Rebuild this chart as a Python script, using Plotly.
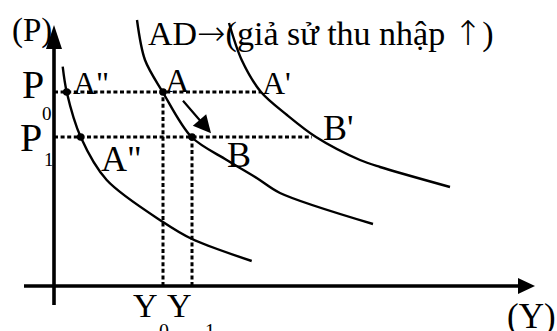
import plotly.graph_objects as go

# --- diagram values (horizontal: output Y, vertical: price level P) ---
P0 = 194
P1 = 149
Y0 = 109
Y1 = 138

# aggregate demand curves
ad_low_x = [8.7, 12.7, 26.7, 52.7, 109, 138, 197.7]
ad_low_y = [219.3, 194, 149, 106, 64, 47, 25]

ad_x = [83, 91, 108.7, 137.5, 172.7, 202.7, 226, 319]
ad_y = [266, 226, 194, 149, 126, 108, 93, 62]

ad_high_x = [175, 187.7, 207, 233, 262, 306, 326, 396]
ad_high_y = [263, 226, 194, 171, 149, 126, 119, 99]

# marked points
pts_x = [12.7, 26.7, Y0, Y1]
pts_y = [P0, P1, P0, P1]

# extents of the drawn axes
x_axis_from, x_axis_to = -30, 481
y_axis_from, y_axis_to = -19, 261

# endpoints of the guide lines
p0_guide_end = 207
p1_guide_end = 258

FONT = "Liberation Serif, Times New Roman, serif"
SYMBOL_FONT = "DejaVu Sans"
INK = "black"

fig = go.Figure()

curve_style = dict(color=INK, width=2.4, shape="spline", smoothing=0.9)
for cx, cy in [(ad_low_x, ad_low_y), (ad_x, ad_y), (ad_high_x, ad_high_y)]:
    fig.add_trace(go.Scatter(x=cx, y=cy, mode="lines", line=curve_style,
                             hoverinfo="skip", showlegend=False))

# dotted guide lines
dot_style = dict(color=INK, width=3, dash="4px,2.6px")
guides = [
    ([0, p0_guide_end], [P0, P0]),
    ([0, p1_guide_end], [P1, P1]),
    ([Y0, Y0], [0, P0]),
    ([Y1, Y1], [0, P1]),
]
for gx, gy in guides:
    fig.add_trace(go.Scatter(x=gx, y=gy, mode="lines", line=dot_style,
                             hoverinfo="skip", showlegend=False))

# axes
axis_style = dict(color=INK, width=3.6)
fig.add_trace(go.Scatter(x=[x_axis_from, x_axis_to - 10], y=[0, 0], mode="lines",
                         line=axis_style, hoverinfo="skip", showlegend=False))
fig.add_trace(go.Scatter(x=[0, 0], y=[y_axis_from, y_axis_to - 12], mode="lines",
                         line=axis_style, hoverinfo="skip", showlegend=False))

# points on the curves
fig.add_trace(go.Scatter(x=pts_x, y=pts_y, mode="markers",
                         marker=dict(color=INK, size=7.5),
                         hoverinfo="skip", showlegend=False))


def head(tip_x, tip_y, dx, dy, length, half):
    """Closed triangle path for an arrowhead pointing along (dx, dy)."""
    bx, by = tip_x - dx * length, tip_y - dy * length
    px, py = -dy * half, dx * half
    return (f"M {tip_x},{tip_y} L {bx + px},{by + py} "
            f"L {bx - px},{by - py} Z")


fig.add_shape(type="path", path=head(0, y_axis_to, 0, 1, 24, 8),
              fillcolor=INK, line=dict(width=0), xref="x", yref="y")
fig.add_shape(type="path", path=head(x_axis_to, 0, 1, 0, 17, 8),
              fillcolor=INK, line=dict(width=0), xref="x", yref="y")

# movement along AD from A to B
fig.add_annotation(x=157, y=152.7, ax=127.7, ay=186.7, xref="x", yref="y",
                   axref="x", ayref="y", text="", showarrow=True,
                   arrowhead=2, arrowwidth=2.2, arrowsize=1.6, arrowcolor=INK,
                   standoff=0)


def sym(ch):
    return (f"<span style='font-family:{SYMBOL_FONT};font-weight:200'>"
            f"{ch}</span>")


labels = [
    ("(P)", -43, 255.5, 33),
    (f"AD{sym('→')}(giả sử thu nhập {sym('↑')})", 92.7, 253, 34),
    ('A"', 18, 203.5, 32),
    ("A", 110, 205.5, 34),
    ("A'", 207, 203.5, 32),
    ("B'", 268, 158, 36),
    ("B", 172, 131, 36),
    ('A"', 46, 127.5, 36),
    ("P", -33, 201.7, 40),
    ("0", -13, 173, 19),
    ("P", -35, 148.5, 40),
    ("1", -11, 127, 19),
    ("Y", 78, -19, 34),
    ("0", 104, -45, 20),
    ("Y", 112, -19, 34),
    ("1", 150, -45, 20),
    ("(Y)", 452, -30.5, 35),
]
for txt, lx, ly, size in labels:
    fig.add_annotation(x=lx, y=ly, xref="x", yref="y", text=txt,
                       showarrow=False, xanchor="left", yanchor="middle",
                       borderpad=0, font=dict(family=FONT, size=size, color=INK))

fig.update_layout(
    width=557, height=331,
    margin=dict(l=0, r=0, t=0, b=0),
    paper_bgcolor="white", plot_bgcolor="white",
    xaxis=dict(range=[-54, 503], visible=False, fixedrange=True),
    yaxis=dict(range=[-45, 286], visible=False, fixedrange=True),
    showlegend=False,
)

fig.write_html("out.html")
